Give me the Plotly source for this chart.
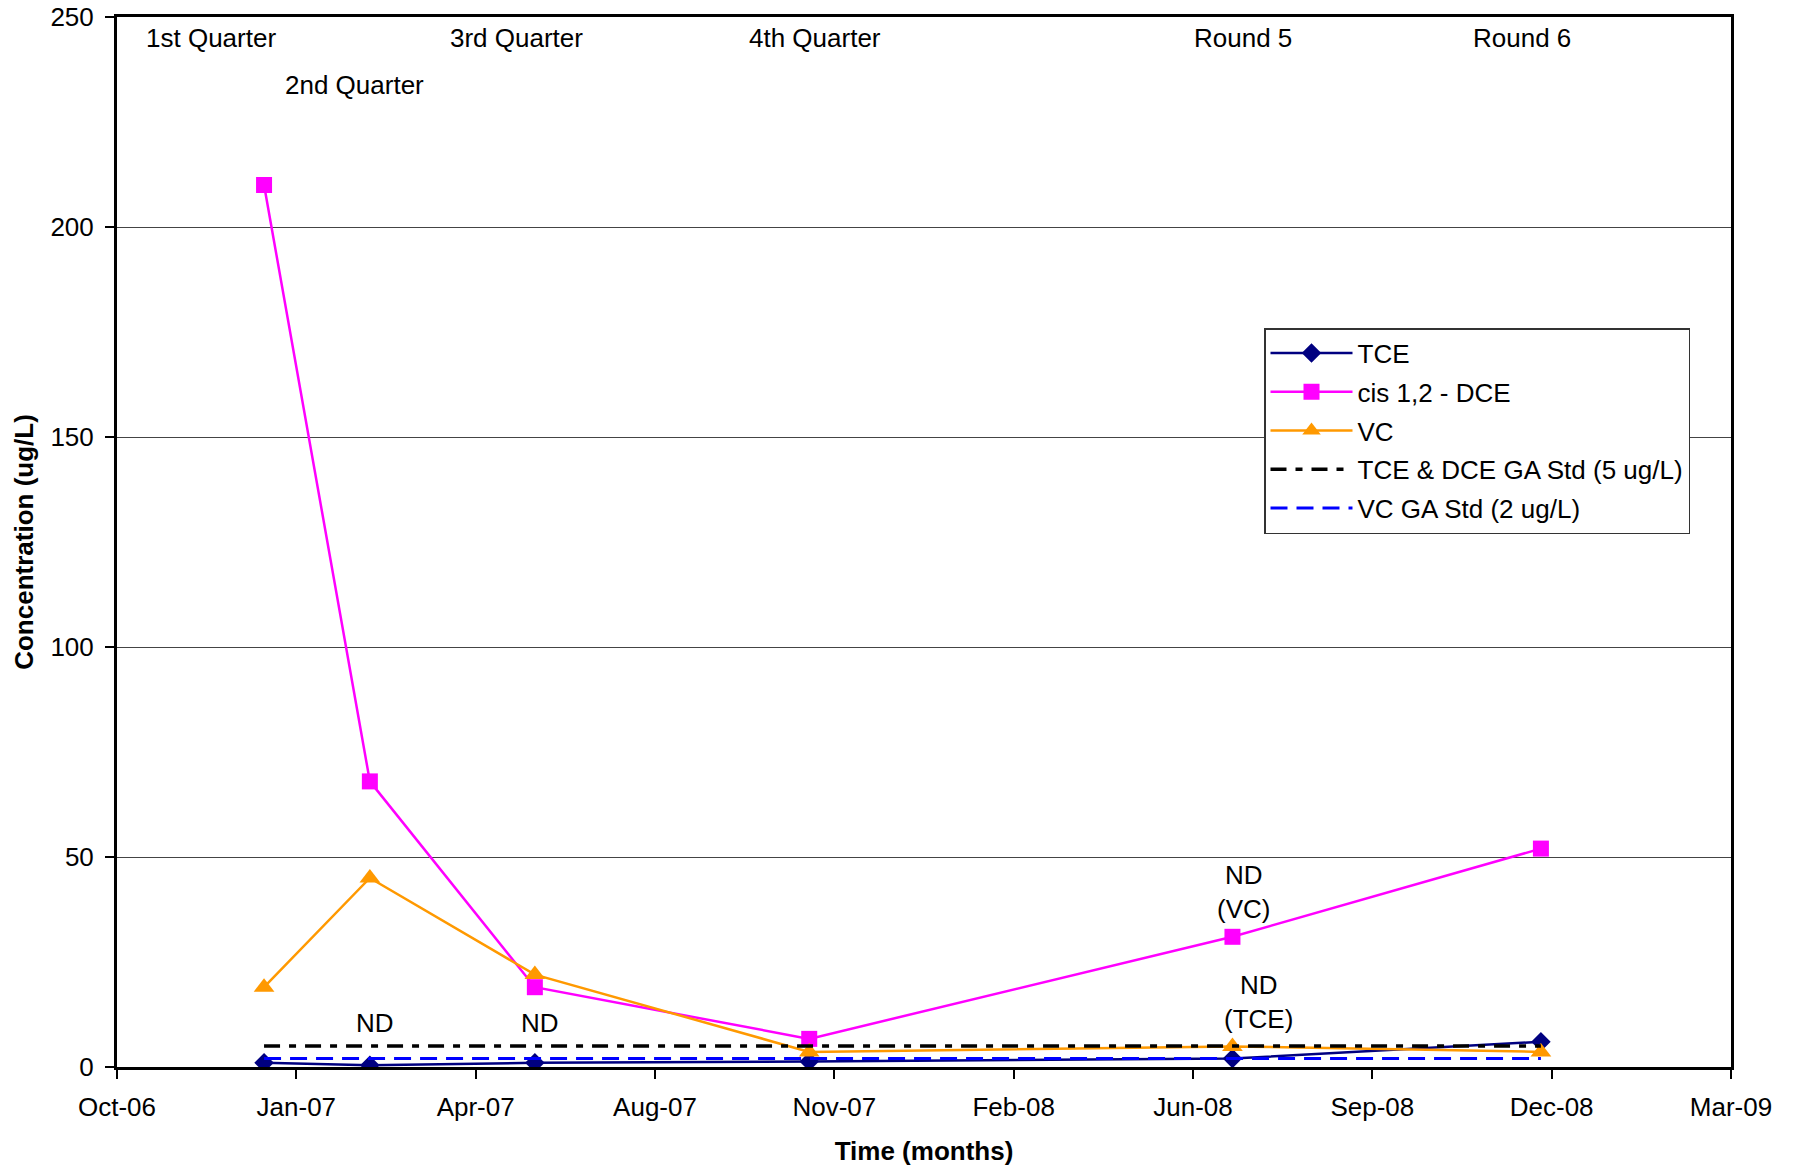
import plotly.graph_objects as go

# Sampling events (dates) and measured concentrations (ug/L)
sample_dates = ["2006-12-31", "2007-02-28", "2007-05-31", "2007-10-31", "2008-06-23", "2008-12-12"]
tce = [1.0, 0.4, 1.0, 1.3, 2.0, 6.0]
cis_dce = [210, 68, 19, 6.7, 31, 52]
vc = [19, 45, 22, 3.6, 4.9, 3.6]

# Regulatory standards, drawn across the sampling period
std_dates = [sample_dates[0], sample_dates[-1]]
tce_dce_std = [5, 5]
vc_std = [2, 2]

# Axis settings
x_range = ["2006-10-10", "2009-03-28"]
x_tick0 = "2006-10-10"
x_tick_days = 100
y_range = [0, 250]
y_tick_step = 50

# Event labels along the top and "not detected" notes
event_labels = ["1st Quarter", "2nd Quarter", "3rd Quarter", "4th Quarter", "Round 5", "Round 6"]
nd_labels = ["ND", "ND", "ND<br>(VC)", "ND<br>(TCE)"]

FONT = "Liberation Sans, Arial, sans-serif"
fig = go.Figure()

fig.add_trace(go.Scatter(
    x=sample_dates, y=tce, name="TCE", mode="lines+markers", legendgroup="a",
    line=dict(color="#000080", width=2.5),
    marker=dict(symbol="diamond", size=15, color="#000080")))
fig.add_trace(go.Scatter(
    x=sample_dates, y=cis_dce, name="cis 1,2 - DCE", mode="lines+markers", legendgroup="b",
    line=dict(color="#FF00FF", width=2.5),
    marker=dict(symbol="square", size=16, color="#FF00FF")))
fig.add_trace(go.Scatter(
    x=sample_dates, y=vc, name="VC", mode="lines+markers", legendgroup="c",
    line=dict(color="#FF9900", width=2.5),
    marker=dict(symbol="triangle-up", size=18, color="#FF9900")))
fig.add_trace(go.Scatter(
    x=std_dates, y=tce_dce_std, name="TCE & DCE GA Std (5 ug/L)", mode="lines", legendgroup="d",
    line=dict(color="#000000", width=3.5, dash="16px,9px,7px,9px")))
fig.add_trace(go.Scatter(
    x=std_dates, y=vc_std, name="VC GA Std (2 ug/L)", mode="lines", legendgroup="e",
    line=dict(color="#0000FF", width=3, dash="17px,9px")))

L, R, T, B = 117, 63, 17, 101
W, H = 1794, 1168
pw, ph = W - L - R, H - T - B


def px_x(px):
    return (px - L) / pw


def px_y(py):
    return (H - B - py) / ph


annotations = []
event_pos = [(210.5, 37.8), (354.7, 84.7), (516, 37.8), (814.6, 37.8), (1242.5, 37.8), (1521.7, 37.8)]
for text, (ax, ay) in zip(event_labels, event_pos):
    annotations.append(dict(text=text, x=px_x(ax), y=px_y(ay), xref="paper", yref="paper",
                            showarrow=False, xanchor="center", yanchor="middle",
                            font=dict(size=26, color="black", family=FONT)))
nd_pos = [(375.3, 1022.8), (540, 1022.8), (1243.6, 892), (1258.5, 1002)]
for text, (ax, ay) in zip(nd_labels, nd_pos):
    annotations.append(dict(text=text, x=px_x(ax), y=px_y(ay), xref="paper", yref="paper",
                            showarrow=False, xanchor="center", yanchor="middle",
                            font=dict(size=26, color="black", family=FONT)))

fig.update_layout(
    width=W, height=H,
    margin=dict(l=L, r=R, t=T, b=B, autoexpand=False),
    paper_bgcolor="white", plot_bgcolor="white",
    font=dict(family=FONT, size=26, color="black"),
    showlegend=True,
    legend=dict(x=px_x(1264), y=px_y(328), xanchor="left", yanchor="top",
                bgcolor="white", bordercolor="#333333", borderwidth=1.5,
                font=dict(size=26, family=FONT, color="black"),
                traceorder="grouped", tracegroupgap=2, itemwidth=82,
                entrywidth=371, entrywidthmode="pixels"),
    annotations=annotations,
)

fig.update_xaxes(
    type="date", range=x_range, tick0=x_tick0, dtick=x_tick_days * 86400000,
    tickformat="%b-%y", ticks="outside", ticklen=9, tickwidth=1.5, tickcolor="black",
    ticklabelstandoff=6,
    showline=True, linecolor="black", linewidth=3, mirror=True,
    showgrid=False, zeroline=False,
    title=dict(text="<b>Time (months)</b>", font=dict(size=26, family=FONT), standoff=21),
)
fig.update_yaxes(
    range=y_range, dtick=y_tick_step, tick0=0,
    ticks="outside", ticklen=9, tickwidth=1.5, tickcolor="black",
    ticklabelstandoff=6,
    showline=True, linecolor="black", linewidth=3, mirror=True,
    showgrid=True, gridcolor="#444444", gridwidth=1.2, zeroline=False,
    title=dict(text="<b>Concentration (ug/L)</b>", font=dict(size=26, family=FONT), standoff=10),
)

fig.write_html("out.html")
